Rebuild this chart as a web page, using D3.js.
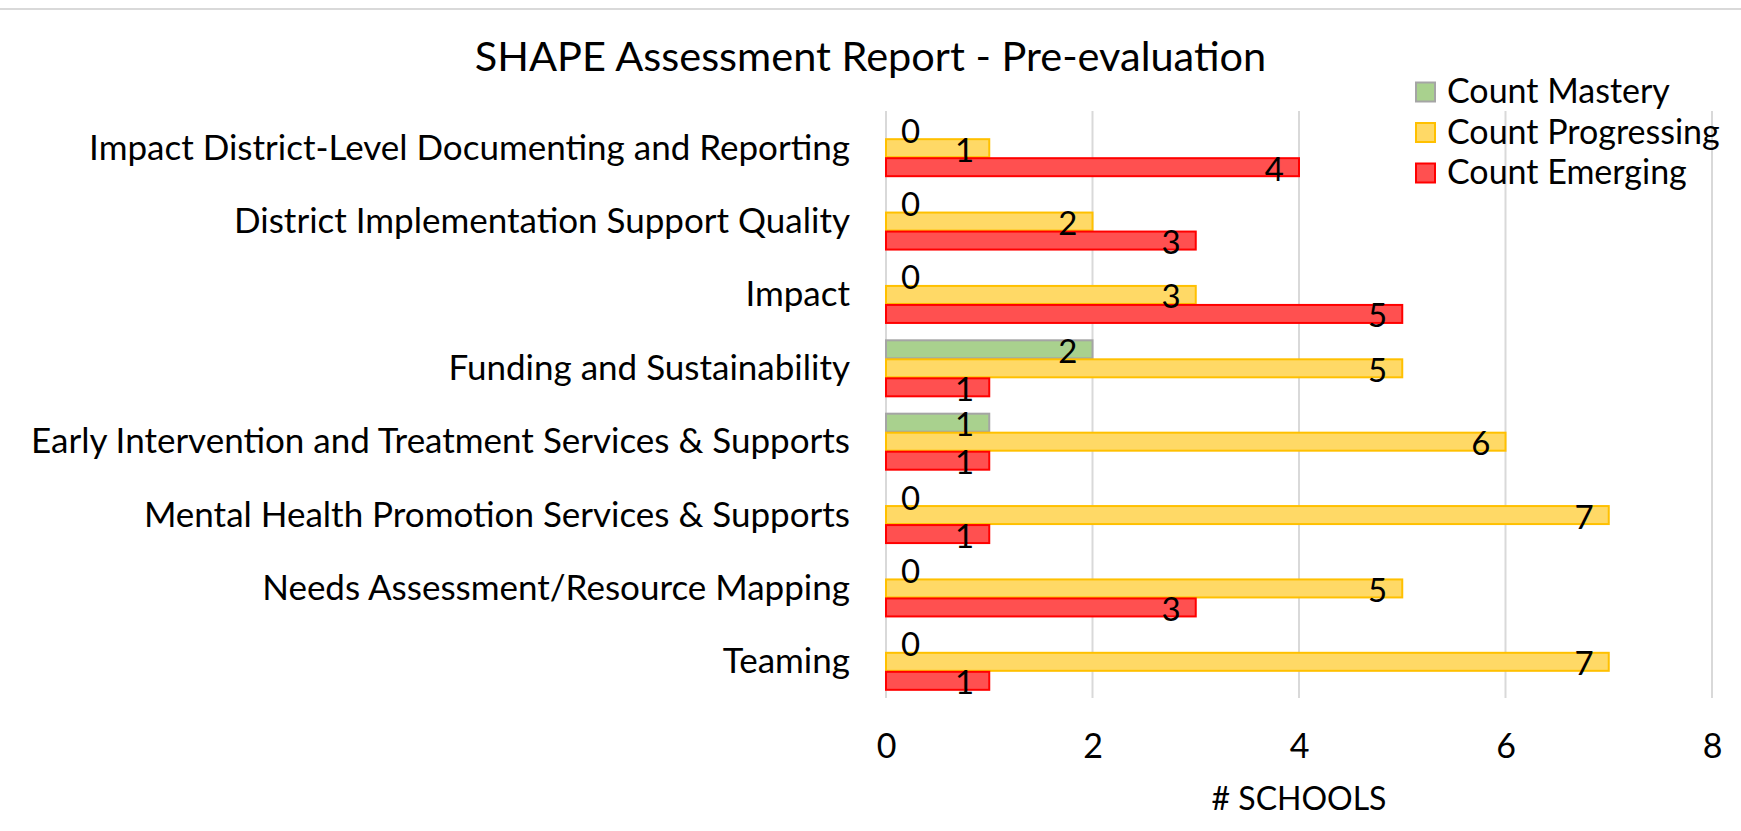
<!DOCTYPE html>
<html>
<head>
<meta charset="utf-8">
<script src="https://cdn.jsdelivr.net/npm/d3@7"></script>
<style>
body { margin:0; background:#fff; }
text { font-family: Lato, "Open Sans", sans-serif; fill:#000; }
</style>
</head>
<body>
<div id="chart"></div>
<script>
// data, top row first
var categories = [
    "Impact District-Level Documenting and Reporting",
    "District Implementation Support Quality",
    "Impact",
    "Funding and Sustainability",
    "Early Intervention and Treatment Services & Supports",
    "Mental Health Promotion Services & Supports",
    "Needs Assessment/Resource Mapping",
    "Teaming"
];
var seriesNames = ["Count Mastery", "Count Progressing", "Count Emerging"];
var mastery = [0, 0, 0, 2, 1, 0, 0, 0];
var progressing = [1, 2, 3, 5, 6, 7, 5, 7];
var emerging = [4, 3, 5, 1, 1, 1, 3, 1];
var xTicks = [0, 2, 4, 6, 8];

var fills = ["#A9D18E", "#FFD966", "#FF5050"];
var strokes = ["#A5A5A5", "#FFC000", "#FF0000"];

var width = 1741, height = 831;
var fontSize = 34;

var svg = d3.select("#chart").append("svg")
    .attr("width", width)
    .attr("height", height);

// faint chart border along the top
svg.append("line")
    .attr("x1", 0).attr("x2", width)
    .attr("y1", 9).attr("y2", 9)
    .attr("stroke", "#D9D9D9")
    .attr("stroke-width", 2);

svg.append("text")
    .attr("x", width / 2)
    .attr("y", 71)
    .attr("text-anchor", "middle")
    .style("font-size", "41.5px")
    .text("SHAPE Assessment Report - Pre-evaluation");

var xScale = d3.scaleLinear()
    .domain([0, 8])
    .range([886, 1712]);

var yScale = d3.scaleBand()
    .domain(categories)
    .range([111, 698])
    .paddingInner(0.223)
    .paddingOuter(0.1115);

var sub = d3.scaleBand()
    .domain(seriesNames)
    .range([0, yScale.bandwidth()]);

// gridlines
svg.append("g").selectAll("line")
    .data(xTicks)
    .enter().append("line")
    .attr("x1", d => xScale(d)).attr("x2", d => xScale(d))
    .attr("y1", 111).attr("y2", 698)
    .attr("stroke", "#D9D9D9")
    .attr("stroke-width", 2);

// x axis labels
var xAxis = svg.append("g")
    .attr("transform", "translate(0,698)")
    .call(d3.axisBottom(xScale).tickValues(xTicks).tickSize(0).tickFormat(d3.format("d")));
xAxis.select(".domain").remove();
xAxis.selectAll("text")
    .attr("y", 60)
    .attr("dy", 0)
    .style("font-family", "Lato, 'Open Sans', sans-serif")
    .style("font-size", fontSize + "px")
    .style("fill", "#000");

svg.append("text")
    .attr("x", (xScale(0) + xScale(8)) / 2)
    .attr("y", 810)
    .attr("text-anchor", "middle")
    .style("font-size", "32px")
    .text("# SCHOOLS");

// category labels
svg.append("g").selectAll("text")
    .data(categories)
    .enter().append("text")
    .attr("x", 850)
    .attr("y", d => yScale(d) + yScale.bandwidth() / 2 + 12)
    .attr("text-anchor", "end")
    .style("font-size", "35px")
    .text(d => d);

// flatten into one record per bar
var rows = [];
[mastery, progressing, emerging].forEach(function(vals, s) {
    vals.forEach(function(v, i) {
        rows.push({cat: categories[i], series: seriesNames[s], s: s, value: v});
    });
});

svg.append("g").selectAll("rect")
    .data(rows)
    .enter().append("rect")
    .attr("x", xScale(0))
    .attr("y", d => yScale(d.cat) + sub(d.series) + 1)
    .attr("width", d => xScale(d.value) - xScale(0))
    .attr("height", sub.bandwidth() - 1)
    .attr("fill", d => fills[d.s])
    .attr("stroke", d => strokes[d.s])
    .attr("stroke-width", d => d.value ? 2 : 0);

// value labels, inside end (pushed to the base when the bar is too short)
var pad = 15;
svg.append("g").selectAll("text")
    .data(rows)
    .enter().append("text")
    .attr("y", d => yScale(d.cat) + sub(d.series) + sub.bandwidth() / 2 + 14)
    .style("font-size", "33px")
    .text(d => d.value)
    .each(function(d) {
        var w = this.getComputedTextLength();
        var end = xScale(d.value) - pad;
        if (end - w < xScale(0) + pad) {
            d3.select(this).attr("x", xScale(0) + pad).attr("text-anchor", "start");
        } else {
            d3.select(this).attr("x", end).attr("text-anchor", "end");
        }
    });

// legend
var legend = svg.append("g").selectAll("g")
    .data(seriesNames)
    .enter().append("g")
    .attr("transform", (d, i) => "translate(1416," + (92 + i * 40.5) + ")");
legend.append("rect")
    .attr("x", 0).attr("y", -9.5)
    .attr("width", 19).attr("height", 19)
    .attr("fill", (d, i) => fills[i])
    .attr("stroke", (d, i) => strokes[i])
    .attr("stroke-width", 2);
legend.append("text")
    .attr("x", 31)
    .attr("y", 11)
    .style("font-size", "34px")
    .text(d => d);
</script>
</body>
</html>
